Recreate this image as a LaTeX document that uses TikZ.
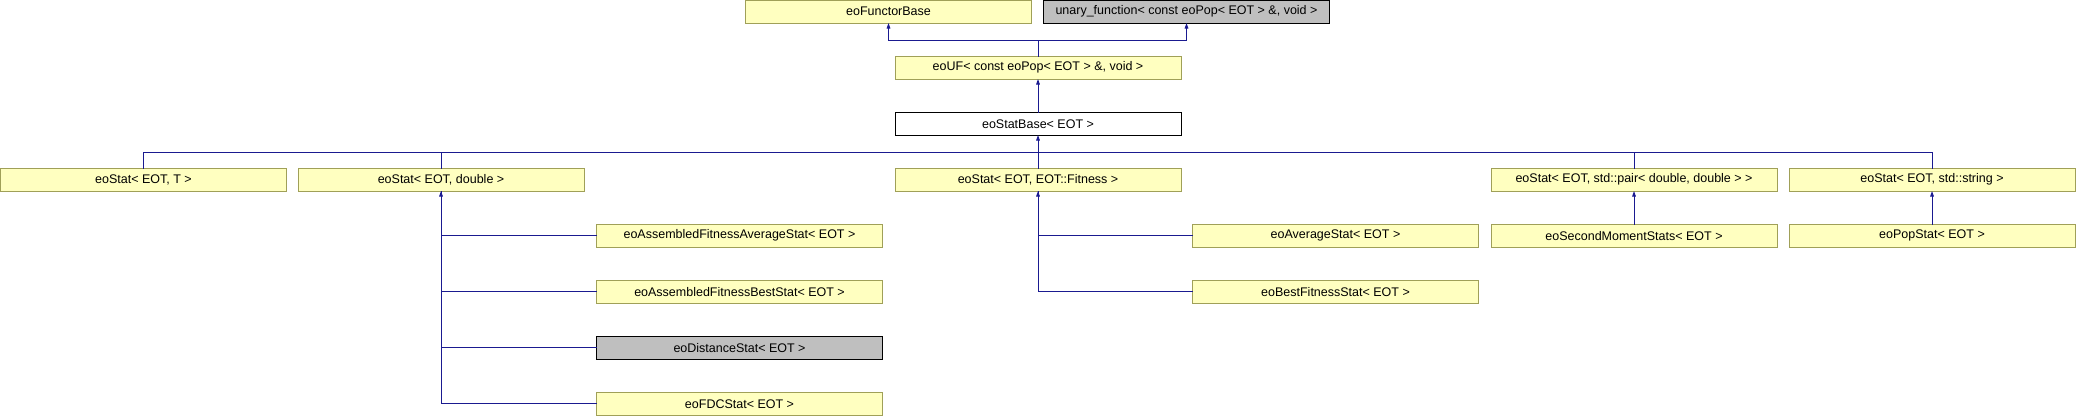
\documentclass[tikz,border=0pt]{standalone}
\usepackage{fontspec}
\setmainfont{Liberation Sans}
\usetikzlibrary{arrows.meta}
\definecolor{boxyellow}{HTML}{FFFFC0}
\definecolor{boxborder}{HTML}{A0A058}
\definecolor{boxgrey}{HTML}{BFBFBF}
\definecolor{edgeblue}{HTML}{1A1A90}
\tikzset{
  cls/.style={draw=boxborder, fill=boxyellow, line width=1pt, anchor=north west,
    minimum width=286pt, minimum height=22.5pt, inner sep=0pt, outer sep=0pt,
    font=\fontsize{12.5}{14}\selectfont},
  clsgrey/.style={cls, draw=black, fill=boxgrey},
  clswhite/.style={cls, draw=black, fill=white},
  edge/.style={draw=edgeblue, line width=1pt},
  tip/.style={-{Triangle[width=3.6pt,length=5.5pt]}}
}
\begin{document}
\begin{tikzpicture}[x=1pt,y=-1pt]
\useasboundingbox (0,0) rectangle (2076,416);
% row 0
\node[cls] (fb) at (745.5,0.5) {eoFunctorBase};
\node[clsgrey] (un) at (1043.5,0.5) {unary\_function< const eoPop< EOT > \&, void >};
% row 1
\node[cls] (uf) at (895,56.5) {eoUF< const eoPop< EOT > \&, void >};
% row 2
\node[clswhite] (base) at (895,112.5) {eoStatBase< EOT >};
% row 3
\node[cls] (sT) at (0.5,168.5) {eoStat< EOT, T >};
\node[cls] (sD) at (298,168.5) {eoStat< EOT, double >};
\node[cls] (sF) at (895,168.5) {eoStat< EOT, EOT::Fitness >};
\node[cls] (sP) at (1491,168.5) {eoStat< EOT, std::pair< double, double > >};
\node[cls] (sS) at (1789,168.5) {eoStat< EOT, std::string >};
% children
\node[cls] (afa) at (596.5,224.5) {eoAssembledFitnessAverageStat< EOT >};
\node[cls] (afb) at (596.5,280.5) {eoAssembledFitnessBestStat< EOT >};
\node[clsgrey] (dist) at (596.5,336.5) {eoDistanceStat< EOT >};
\node[cls] (fdc) at (596.5,392.5) {eoFDCStat< EOT >};
\node[cls] (avg) at (1192.5,224.5) {eoAverageStat< EOT >};
\node[cls] (bfs) at (1192.5,280.5) {eoBestFitnessStat< EOT >};
\node[cls] (smm) at (1491,224.5) {eoSecondMomentStats< EOT >};
\node[cls] (pop) at (1789,224.5) {eoPopStat< EOT >};
% top connectors
\coordinate (b1) at ([yshift=16.5pt]uf.north);
\draw[edge] (uf.north) -- (b1);
\draw[edge,tip] (b1) -| (fb.south);
\draw[edge,tip] (b1) -| (un.south);
\draw[edge,tip] (base.north) -- (uf.south);
% bus under eoStatBase
\coordinate (b2) at ([yshift=16.5pt]sF.north);
\draw[edge,tip] (b2) -- (base.south);
\draw[edge] (sT.north) |- (b2);
\draw[edge] (sD.north) |- (b2);
\draw[edge] (sF.north) -- (b2);
\draw[edge] (sP.north) |- (b2);
\draw[edge] (sS.north) |- (b2);
% left column
\draw[edge,tip] (fdc.west) -| (sD.south);
\draw[edge] (dist.west) -| (sD.south);
\draw[edge] (afb.west) -| (sD.south);
\draw[edge] (afa.west) -| (sD.south);
% fitness column
\draw[edge,tip] (bfs.west) -| (sF.south);
\draw[edge] (avg.west) -| (sF.south);
% pair and string
\draw[edge,tip] (smm.north) -- (sP.south);
\draw[edge,tip] (pop.north) -- (sS.south);
\end{tikzpicture}
\end{document}
